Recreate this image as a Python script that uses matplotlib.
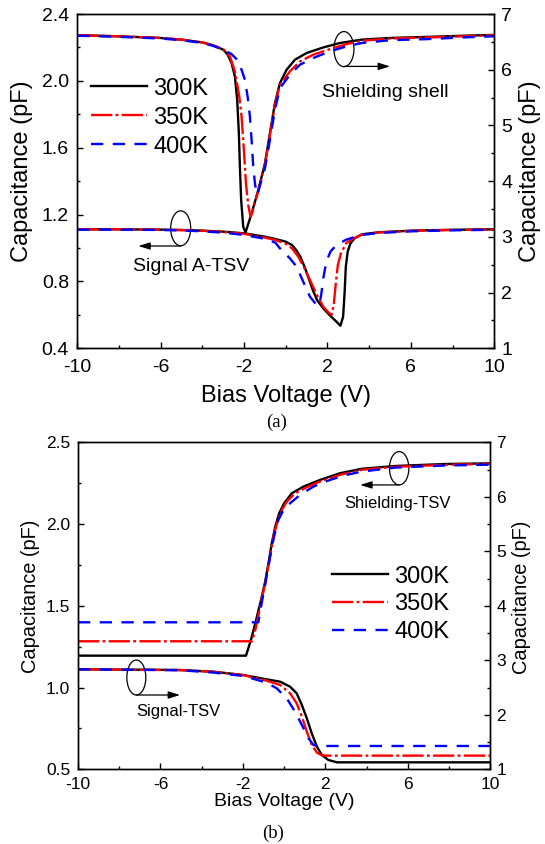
import matplotlib
matplotlib.use('Agg')
import matplotlib.pyplot as plt
from matplotlib.patches import Ellipse
from matplotlib.ticker import MultipleLocator, FixedLocator, FormatStrFormatter

plt.rcParams['font.family'] = ['Liberation Sans', 'DejaVu Sans']
plt.rcParams['axes.unicode_minus'] = False

temps = ['300K', '350K', '400K']
x_ticks = [-10, -6, -2, 2, 6, 10]

# (a) shielding shell, right axis
shell_300_v = [-10, -8, -6, -5, -4, -3.5, -3.0, -2.8, -2.6, -2.44, -2.33, -2.25, -2.2, -2.14, -2.04, -1.93,
               -1.64, -1.32, -1.0, -0.76, -0.52, -0.28, 0.04, 0.44, 1.0, 1.8, 2.6, 3.65, 5.0, 6.85, 8.5, 10]
shell_300_c = [6.62, 6.60, 6.57, 6.54, 6.49, 6.44, 6.36, 6.28, 6.12, 5.88, 5.46, 4.86, 4.26, 3.66, 3.18, 3.08,
               3.42, 3.84, 4.32, 4.86, 5.40, 5.76, 6.00, 6.18, 6.30, 6.40, 6.48, 6.54, 6.57, 6.59, 6.61, 6.625]
shell_350_v = [-10, -8, -6, -5, -4, -3.5, -3.0, -2.68, -2.44, -2.23, -2.12, -2.01, -1.91, -1.80, -1.69, -1.60,
               -1.32, -1.0, -0.76, -0.52, -0.28, 0.2, 0.68, 1.32, 2.12, 2.92, 3.65, 5.0, 6.85, 8.5, 10]
shell_350_c = [6.62, 6.60, 6.57, 6.54, 6.49, 6.44, 6.37, 6.24, 5.97, 5.52, 5.16, 4.56, 3.96, 3.57, 3.36, 3.45,
               3.82, 4.29, 4.83, 5.37, 5.73, 5.97, 6.15, 6.27, 6.37, 6.46, 6.52, 6.56, 6.58, 6.60, 6.62]
shell_400_v = [-10, -8, -6, -5, -4, -3.5, -3.0, -2.6, -2.36, -2.12, -1.96, -1.83, -1.72, -1.64, -1.56, -1.47,
               -1.36, -1.24, -1.0, -0.76, -0.52, -0.28, -0.04, 0.2, 0.68, 1.32, 2.12, 2.92, 3.65, 5.0, 6.85, 8.5, 10]
shell_400_c = [6.61, 6.59, 6.56, 6.53, 6.48, 6.43, 6.36, 6.28, 6.19, 6.00, 5.82, 5.52, 5.16, 4.74, 4.26, 3.93,
               3.76, 3.92, 4.23, 4.74, 5.28, 5.67, 5.79, 5.91, 6.09, 6.21, 6.33, 6.42, 6.48, 6.53, 6.55, 6.58, 6.60]

# (a) signal A-TSV, left axis
sig_300_v = [-10, -8, -6, -5, -4, -3, -2, -1, -0.5, 0, 0.3, 0.5, 0.7, 0.9, 1.1, 1.3, 1.5, 1.8, 2.1, 2.4, 2.62,
             2.75, 2.82, 2.88, 2.97, 3.1, 3.3, 3.65, 4.45, 6.05, 8, 10]
sig_300_c = [1.112, 1.112, 1.110, 1.108, 1.104, 1.098, 1.088, 1.068, 1.054, 1.038, 1.018, 0.988, 0.948, 0.888,
             0.818, 0.748, 0.689, 0.639, 0.599, 0.563, 0.535, 0.589, 0.729, 0.888, 0.978, 1.028, 1.058, 1.082,
             1.094, 1.104, 1.109, 1.112]
sig_350_v = [-10, -8, -6, -5, -4, -3, -2, -1, -0.5, 0, 0.3, 0.6, 0.9, 1.2, 1.5, 1.8, 2.05, 2.2, 2.3, 2.4, 2.5,
             2.65, 2.9, 3.3, 3.65, 4.45, 6.05, 8, 10]
sig_350_c = [1.112, 1.112, 1.110, 1.107, 1.103, 1.096, 1.085, 1.062, 1.048, 1.025, 0.998, 0.948, 0.878, 0.798,
             0.718, 0.649, 0.614, 0.600, 0.660, 0.790, 0.900, 0.970, 1.030, 1.060, 1.080, 1.093, 1.103, 1.108, 1.111]
sig_400_v = [-10, -8, -6, -5, -4, -3, -2, -1, -0.5, -0.28, 0.2, 0.52, 0.84, 1.16, 1.48, 1.6, 1.7, 1.8, 1.95,
             2.15, 2.45, 2.9, 3.4, 3.65, 4.45, 6.05, 8, 10]
sig_400_c = [1.110, 1.110, 1.108, 1.105, 1.100, 1.092, 1.078, 1.055, 1.032, 0.998, 0.938, 0.888, 0.798, 0.709,
             0.659, 0.660, 0.720, 0.820, 0.920, 0.980, 1.020, 1.050, 1.070, 1.078, 1.090, 1.100, 1.106, 1.109]

# (b) shielding-TSV, left axis
shb_300_v = [-10, -1.85, -1.61, -1.36, -1.12, -0.92, -0.76, -0.60, -0.43, -0.24, 0.0, 0.37, 0.94, 1.75, 2.72,
             3.78, 5.4, 7.83, 10]
shb_300_c = [1.195, 1.195, 1.291, 1.413, 1.536, 1.648, 1.760, 1.882, 1.984, 2.066, 2.127, 2.188, 2.229, 2.270,
             2.311, 2.338, 2.355, 2.367, 2.371]
shb_350_v = [-10, -1.56, -1.40, -1.16, -0.92, -0.71, -0.52, -0.32, -0.11, 0.13, 0.53, 1.10, 1.75, 2.72, 3.78,
             5.4, 7.83, 10]
shb_350_c = [1.283, 1.283, 1.352, 1.495, 1.638, 1.780, 1.923, 2.015, 2.086, 2.137, 2.188, 2.225, 2.260, 2.301,
             2.332, 2.350, 2.362, 2.368]
shb_400_v = [-10, -1.25, -1.09, -0.88, -0.68, -0.49, -0.28, -0.03, 0.29, 0.77, 1.42, 2.23, 3.04, 3.78, 5.4,
             7.83, 10]
shb_400_c = [1.399, 1.399, 1.515, 1.658, 1.801, 1.923, 2.025, 2.086, 2.127, 2.178, 2.229, 2.270, 2.301, 2.321,
             2.345, 2.358, 2.363]

# (b) signal-TSV, right axis
sgb_300_v = [-10, -5.05, -3.43, -1.98, -0.85, -0.19, 0.29, 0.61, 0.86, 1.10, 1.34, 1.59, 1.83, 2.15, 2.56, 10]
sgb_300_c = [2.835, 2.822, 2.791, 2.730, 2.651, 2.607, 2.515, 2.393, 2.180, 1.935, 1.660, 1.416, 1.263, 1.171,
             1.128, 1.128]
sgb_350_v = [-10, -5.05, -3.43, -1.98, -0.85, -0.19, 0.29, 0.61, 0.86, 1.10, 1.34, 1.59, 1.83, 2.1, 10]
sgb_350_c = [2.835, 2.820, 2.788, 2.727, 2.626, 2.546, 2.393, 2.210, 1.967, 1.691, 1.447, 1.306, 1.257, 1.251,
             1.251]
sgb_400_v = [-10, -5.05, -3.43, -1.98, -0.85, -0.36, 0.13, 0.53, 0.86, 1.18, 1.42, 1.67, 10]
sgb_400_c = [2.835, 2.818, 2.775, 2.712, 2.590, 2.486, 2.300, 2.057, 1.813, 1.570, 1.447, 1.428, 1.428]

styles = [dict(color='black', ls='-', lw=1.7),
          dict(color='red', ls=(0, (9, 1.4, 1.2, 1.4)), lw=1.7),
          dict(color='blue', ls=(0, (5.2, 4.0)), lw=1.7)]


def style_axes(ax, ax2, left_major, left_minor, left_lim, fs, xpad, ypad):
    ax.set_xlim(-10, 10)
    ax.set_ylim(*left_lim)
    ax2.set_ylim(1, 7)
    ax.xaxis.set_major_locator(FixedLocator(x_ticks))
    ax.xaxis.set_minor_locator(MultipleLocator(2))
    ax.yaxis.set_major_locator(MultipleLocator(left_major))
    ax.yaxis.set_minor_locator(MultipleLocator(left_minor))
    ax.yaxis.set_major_formatter(FormatStrFormatter('%.1f'))
    ax2.yaxis.set_major_locator(MultipleLocator(1))
    ax2.yaxis.set_minor_locator(MultipleLocator(0.5))
    ax.tick_params(axis='x', which='both', direction='in', top=False, labelsize=fs, pad=xpad)
    ax.tick_params(axis='y', which='both', direction='in', right=False, labelsize=fs, pad=ypad)
    ax2.tick_params(axis='y', which='both', direction='in', labelsize=fs, pad=ypad - 1)
    for a in (ax, ax2):
        a.tick_params(which='major', length=4.5, width=1)
        a.tick_params(which='minor', length=2.5, width=1)
        for s in a.spines.values():
            s.set_linewidth(1)


def ring(ax, cx, cy, w, h, x_end, y_arrow):
    ax.add_patch(Ellipse((cx, cy), w, h, fill=False, ec='black', lw=0.9))
    ax.annotate('', xy=(x_end, y_arrow), xytext=(cx, y_arrow),
                arrowprops=dict(arrowstyle='-|>,head_length=0.7,head_width=0.22', color='black',
                                lw=0.9, shrinkA=0, shrinkB=0, mutation_scale=10))


fig = plt.figure(figsize=(5.45, 8.44), dpi=100)

# ---- panel (a)
axa = fig.add_axes([0.1418, 0.5873, 0.7651, 0.3961])
axa2 = axa.twinx()
sig_a = [(sig_300_v, sig_300_c), (sig_350_v, sig_350_c), (sig_400_v, sig_400_c)]
shell_a = [(shell_300_v, shell_300_c), (shell_350_v, shell_350_c), (shell_400_v, shell_400_c)]
handles = []
for (v, c), st, t in zip(sig_a, styles, temps):
    h, = axa.plot(v, c, label=t, **st)
    handles.append(h)
for (v, c), st in zip(shell_a, styles):
    axa2.plot(v, c, **st)
style_axes(axa, axa2, 0.4, 0.2, (0.4, 2.4), 14, 7.5, 6)
axa.set_xlabel('Bias Voltage (V)', fontsize=17)
axa.set_ylabel('Capacitance (pF)', fontsize=17)
axa2.set_ylabel('Capacitance (pF)', fontsize=17)
axa.xaxis.set_label_coords(0.5, -0.110)
axa.yaxis.set_label_coords(-0.106, 0.529)
axa2.yaxis.set_label_coords(1.0585, 0.531)
axa.legend(handles=handles, loc='upper left', bbox_to_anchor=(0.032, 0.81), frameon=False, fontsize=17,
           handlelength=2.37, handletextpad=0.28, labelspacing=0.3, borderpad=0, borderaxespad=0)
ring(axa2, 2.79, 6.37, 0.96, 0.63, 5.0, 6.06)
axa2.text(1.72, 5.506, 'Shielding shell', fontsize=14, ha='left', va='baseline')
ring(axa, -5.04, 1.118, 0.96, 0.209, -7.07, 1.012)
axa.text(-7.34, 0.864, 'Signal A-TSV', fontsize=14, ha='left', va='baseline')

# ---- panel (b)
axb = fig.add_axes([0.1431, 0.0885, 0.7565, 0.3875])
axb2 = axb.twinx()
shb = [(shb_300_v, shb_300_c), (shb_350_v, shb_350_c), (shb_400_v, shb_400_c)]
sgb = [(sgb_300_v, sgb_300_c), (sgb_350_v, sgb_350_c), (sgb_400_v, sgb_400_c)]
handles = []
for (v, c), st, t in zip(shb, styles, temps):
    h, = axb.plot(v, c, label=t, **st)
    handles.append(h)
for (v, c), st in zip(sgb, styles):
    axb2.plot(v, c, **st)
style_axes(axb, axb2, 0.5, 0.25, (0.5, 2.5), 12.5, 5.5, 5.5)
axb.set_xlabel('Bias Voltage (V)', fontsize=14)
axb.set_ylabel('Capacitance (pF)', fontsize=14.4)
axb2.set_ylabel('Capacitance (pF)', fontsize=14.4)
axb.xaxis.set_label_coords(0.5, -0.071)
axb.yaxis.set_label_coords(-0.092, 0.528)
axb2.yaxis.set_label_coords(1.053, 0.525)
axb.legend(handles=handles, loc='upper left', bbox_to_anchor=(0.616, 0.623), frameon=False, fontsize=17,
           handlelength=2.37, handletextpad=0.27, labelspacing=0.25, borderpad=0, borderaxespad=0)
ring(axb, 5.58, 2.341, 0.94, 0.204, 3.69, 2.239)
axb.text(2.91, 2.096, 'Shielding-TSV', fontsize=12, ha='left', va='baseline')
ring(axb2, -7.17, 2.684, 0.92, 0.642, -5.05, 2.363)
axb2.text(-7.15, 1.978, 'Signal-TSV', fontsize=12, ha='left', va='baseline')

fig.text(0.507, 0.500, '(a)', ha='center', va='center', fontsize=13.5, family='Liberation Serif')
fig.text(0.5006, 0.013, '(b)', ha='center', va='center', fontsize=13.5, family='Liberation Serif')

fig.savefig('out.png', dpi=100)
